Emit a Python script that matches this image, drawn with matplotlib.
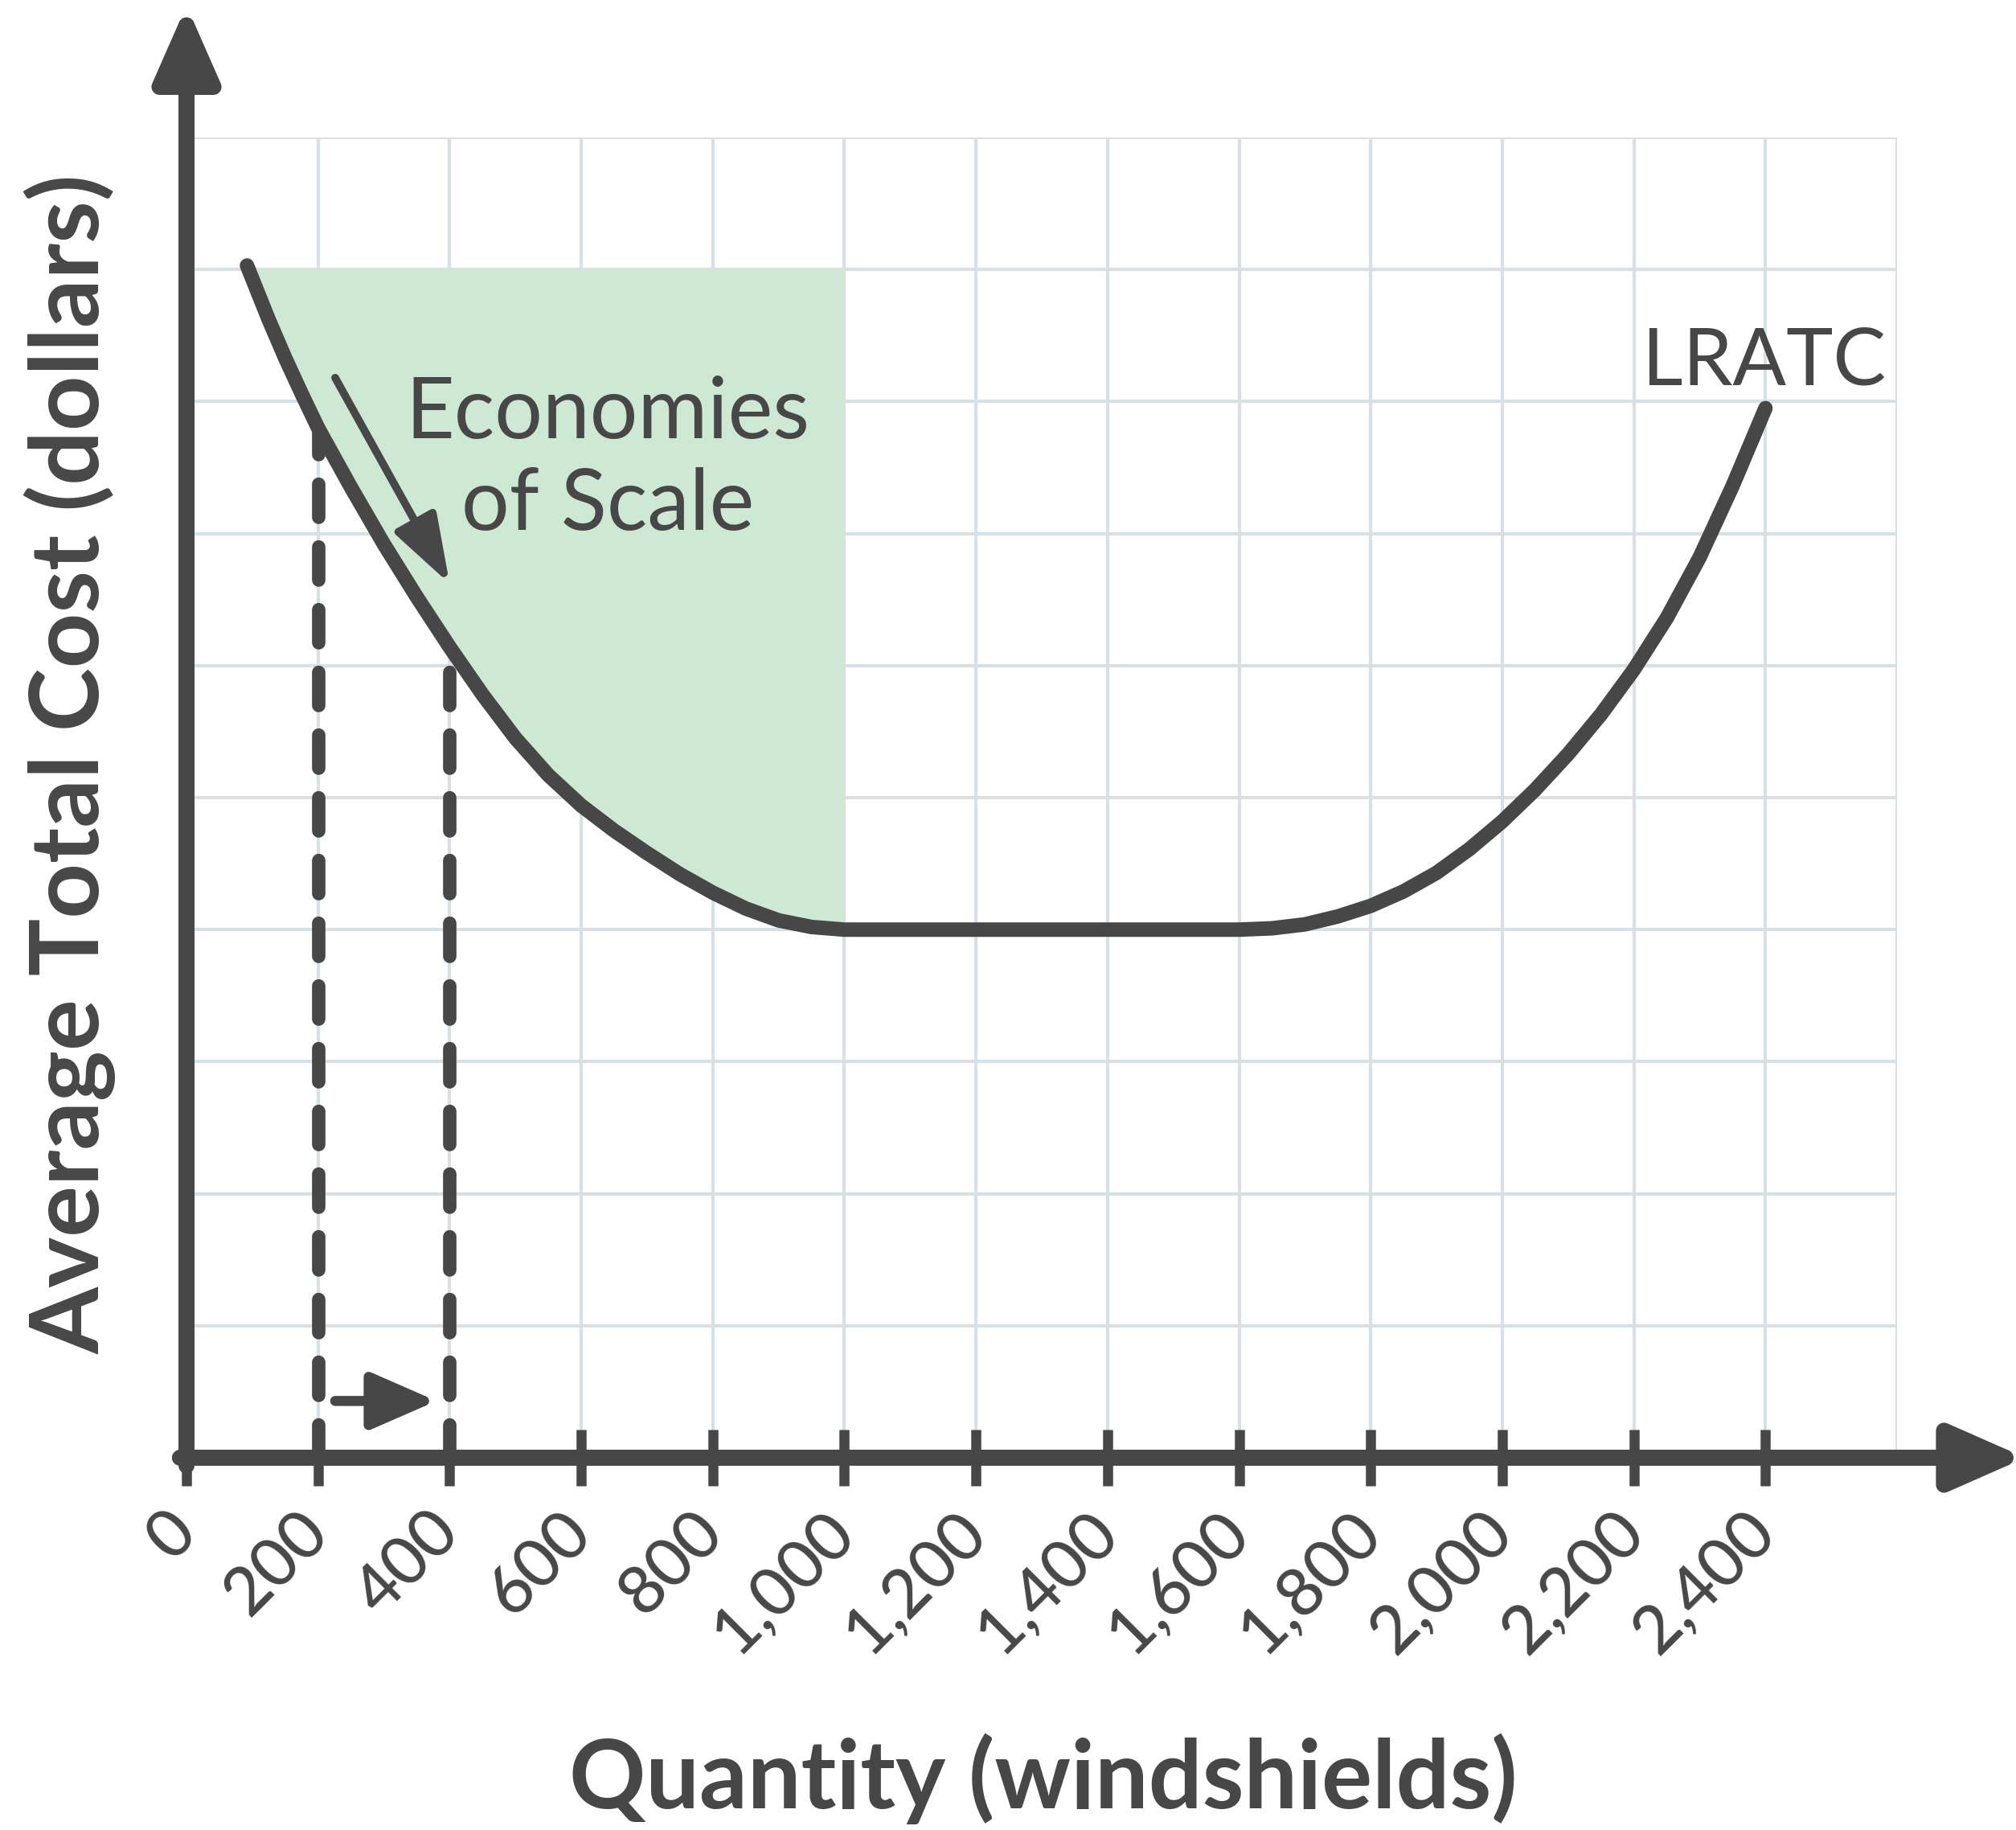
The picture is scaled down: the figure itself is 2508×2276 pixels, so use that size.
import numpy as np
import matplotlib
matplotlib.use('Agg')
import matplotlib.pyplot as plt

plt.rcParams['font.family'] = ['Lato', 'DejaVu Sans']

# LRATC curve (quantity, average total cost in grid units)
quantity = [92, 125, 150, 175, 200, 250, 300, 350, 400, 450, 500, 550, 600, 650,
            700, 750, 800, 850, 900, 950, 1000, 1050, 1100, 1200, 1300, 1400,
            1500, 1600, 1650, 1700, 1750, 1800, 1850, 1900, 1950, 2000, 2050,
            2100, 2150, 2200, 2250, 2300, 2350, 2400]
lratc = [9.03, 8.62, 8.33, 8.06, 7.80, 7.35, 6.92, 6.52, 6.14, 5.78, 5.45, 5.17,
         4.94, 4.75, 4.58, 4.42, 4.28, 4.16, 4.07, 4.02, 4.00, 4.00, 4.00, 4.00,
         4.00, 4.00, 4.00, 4.00, 4.01, 4.04, 4.10, 4.18, 4.29, 4.43, 4.61, 4.82,
         5.06, 5.33, 5.63, 5.97, 6.36, 6.82, 7.36, 7.95]

xticks = [0, 200, 400, 600, 800, 1000, 1200, 1400, 1600, 1800, 2000, 2200, 2400]
xticklabels = ['0', '200', '400', '600', '800', '1,000', '1,200', '1,400',
               '1,600', '1,800', '2,000', '2,200', '2,400']
grid_q = [200, 400, 600, 800, 1000, 1200, 1400, 1600, 1800, 2000, 2200, 2400, 2600]
grid_c = [1, 2, 3, 4, 5, 6, 7, 8, 9, 10]

shade_end = 1000       # economies of scale region ends here
shade_top = 9
moves_from, moves_to = 200, 400

dark = '#474747'
green = '#cde9d3'
gridc = '#d9e0e5'

q = np.array(quantity)
c = np.array(lratc)

fig = plt.figure(figsize=(25.08, 22.76), dpi=100)
ax = fig.add_axes([232 / 2508, 463 / 2276, 2128 / 2508, 1642 / 2276])
ax.set_xlim(0, 2600)
ax.set_ylim(0, 10)
for s in ax.spines.values():
    s.set_visible(False)

for g in grid_q:
    ax.axvline(g, color=gridc, lw=3, zorder=0)
for g in grid_c:
    ax.axhline(g, color=gridc, lw=3, zorder=0)

# shaded economies of scale area
m = q <= shade_end
ax.fill_between(q[m], c[m], shade_top, color=green, lw=0, zorder=1)

ax.plot(q, c, color=dark, lw=13, solid_capstyle='round',
        solid_joinstyle='round', zorder=4)

# dashed quantity lines
for qq in (moves_from, moves_to):
    top = c[quantity.index(qq)]
    ax.plot([qq, qq], [0, top], color=dark, lw=12, dashes=(2.48, 2.2),
            dash_capstyle='round', zorder=3)

# arrows
ax.annotate('', xy=(380, 0.43), xytext=(226, 0.43), annotation_clip=False,
            arrowprops=dict(arrowstyle='-|>,head_length=0.55,head_width=0.24',
                            mutation_scale=90, lw=9, color=dark,
                            shrinkA=0, shrinkB=0), zorder=5)
ax.annotate('', xy=(400, 6.62), xytext=(226, 8.18), annotation_clip=False,
            arrowprops=dict(arrowstyle='-|>,head_length=0.65,head_width=0.22',
                            mutation_scale=80, lw=7, color=dark,
                            shrinkA=0, shrinkB=0), zorder=5)

# axes with arrow heads
ax.annotate('', xy=(0, 11.0), xytext=(0, -0.06), annotation_clip=False,
            arrowprops=dict(arrowstyle='-|>,head_length=0.5,head_width=0.22',
                            mutation_scale=110, lw=14.4, color=dark,
                            shrinkA=0, shrinkB=0), zorder=6)
ax.annotate('', xy=(2795, 0), xytext=(-10, 0), annotation_clip=False,
            arrowprops=dict(arrowstyle='-|>,head_length=0.5,head_width=0.22',
                            mutation_scale=110, lw=14.4, color=dark,
                            shrinkA=0, shrinkB=0), zorder=6)

ax.set_xticks(xticks)
ax.set_xticklabels(xticklabels, rotation=45, ha='right', va='center',
                   rotation_mode='anchor', fontweight='medium')
ax.tick_params(axis='x', direction='inout', length=50, width=9, color=dark,
               pad=33, labelsize=60, labelcolor=dark)
ax.set_yticks([])

ax.text(640, 7.56, 'Economies\nof Scale', ha='center', va='center',
        fontsize=76, color=dark, linespacing=1.23, zorder=5)
ax.text(2398, 8.30, 'LRATC', ha='center', va='center', fontsize=71,
        color=dark, zorder=5)

fig.text(87 / 2508, 1 - 950 / 2276, 'Average Total Cost (dollars)',
         rotation=90, ha='center', va='center', fontsize=86,
         fontweight='bold', color=dark)
fig.text(1298 / 2508, 1 - 2212 / 2276, 'Quantity (windshields)',
         ha='center', va='center', fontsize=85, fontweight='bold', color=dark)

fig.savefig('out.png', dpi=100, facecolor='white')
